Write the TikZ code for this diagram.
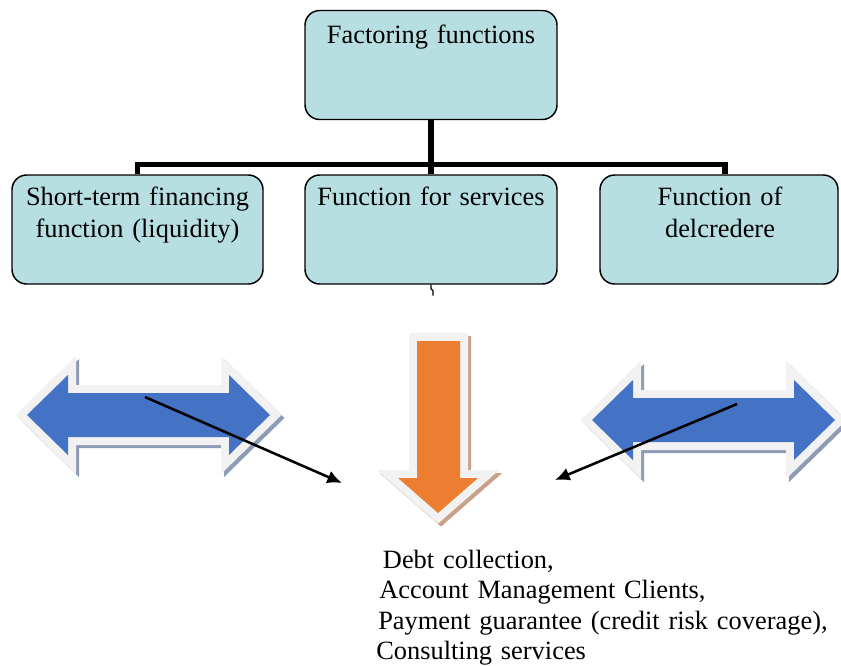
\documentclass[tikz,border=0pt]{standalone}
\usepackage{fontspec}
\setmainfont{Liberation Serif}
\usetikzlibrary{arrows.meta}
\definecolor{BoxTeal}{HTML}{B7DEE0}
\definecolor{ArrowBlue}{HTML}{4472C4}
\definecolor{ArrowOrange}{HTML}{ED7D31}
\definecolor{RimGray}{HTML}{F2F2F2}
\definecolor{BlueShade}{HTML}{8E9BB6}
\definecolor{OrangeShade}{HTML}{C8A189}

\tikzset{
  % shadow, pale rim, then the coloured body
  twoway/.pic={
    \foreach \off/\col in {3/BlueShade, 0/RimGray}
      \filldraw[\col, line width=12pt, shift={(\off,\off)}]
        (0,0) -- (41,-40) -- (41,-22) -- (202,-22) -- (202,-40) -- (243,0)
        -- (202,40) -- (202,22) -- (41,22) -- (41,40) -- cycle;
    \fill[ArrowBlue]
      (0,0) -- (41,-40) -- (41,-22) -- (202,-22) -- (202,-40) -- (243,0)
      -- (202,40) -- (202,22) -- (41,22) -- (41,40) -- cycle;
  },
  downward/.pic={
    \foreach \off/\col in {3/OrangeShade, 0/RimGray}
      \filldraw[\col, line width=12pt, shift={(\off,\off)}]
        (0,0) -- (43,0) -- (43,137) -- (61,137) -- (21,172) -- (-19,137)
        -- (0,137) -- cycle;
    \fill[ArrowOrange]
      (0,0) -- (43,0) -- (43,137) -- (61,137) -- (21,172) -- (-19,137)
      -- (0,137) -- cycle;
  }
}

\begin{document}
\begin{tikzpicture}[x=0.75pt, y=-0.75pt,
  fnbox/.style={draw=black, line width=1.1pt, fill=BoxTeal,
    rounded corners=11pt, inner sep=0pt, minimum height=81.75pt},
  fntext/.style={text width=185pt, align=center, inner sep=0pt,
    anchor=base, font=\fontsize{19.8}{24}\selectfont},
  tree/.style={line width=4pt},
  pointer/.style={-{Latex[length=11pt,width=10pt]}, line width=1.9pt}]

\useasboundingbox (0,0) rectangle (841,665);

% the four function boxes
\node[fnbox, minimum width=189pt] (top) at (431,65) {};
\node[fnbox, minimum width=188.25pt] (short) at (137.5,229.5) {};
\node[fnbox, minimum width=189pt] (serv) at (431,229.5) {};
\node[fnbox, minimum width=178.5pt] (delc) at (719,229.5) {};

\node[fntext] (topl) at (431,43) {Factoring functions};
\node[fntext] (shortl) at (137.5,205) {Short-term financing\\function (liquidity)};
\node[fntext] (servl) at (431,205) {Function for services};
\node[fntext] (delcl) at (720,205) {Function of\\delcredere};

% tree lines
\coordinate (bus) at (431,164.5);
\draw[tree] (top.south) -- (serv.north);
\draw[tree] (short.north) |- (bus) -| ([xshift=4.5pt]delc.north);
\draw[line width=1pt] (serv.south) -- ++(0,4) -- ++(2,2) -- ++(0,5);

% block arrows
\pic at (27,415) {twoway};
\pic at (592,420) {twoway};
\pic at (417,341) {downward};

% pointers into the list
\coordinate (lhub) at (145,397);
\coordinate (lhit) at (342,483);
\coordinate (rhub) at (737,404);
\coordinate (rhit) at (555,480);
\draw[pointer] (lhub) -- (lhit);
\draw[pointer] (rhub) -- (rhit);

\node[text width=345pt, align=left, inner sep=0pt, anchor=base west,
  font=\fontsize{19.8}{22.9}\selectfont] (duties) at (376,568)
  {\hspace*{5pt}Debt collection,\\
   \hspace*{2.25pt}Account Management Clients,\\
   \hspace*{1.5pt}Payment guarantee (credit risk coverage),\\
   Consulting services};
\end{tikzpicture}
\end{document}
